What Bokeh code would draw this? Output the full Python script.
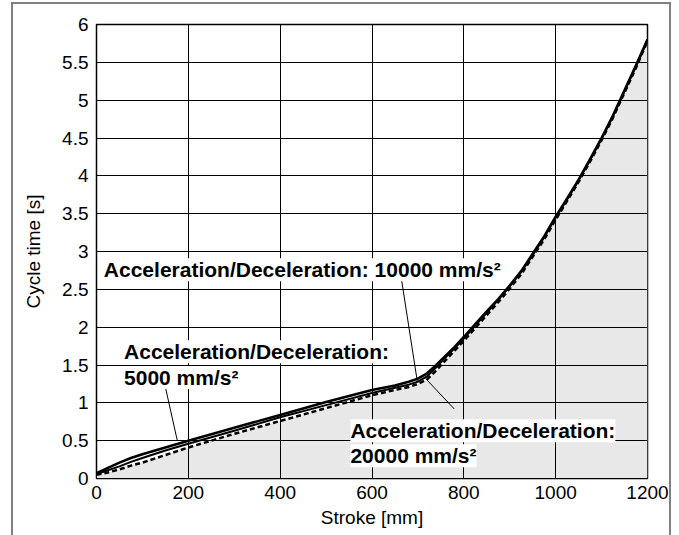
from bokeh.plotting import figure
from bokeh.models import Range1d, FixedTicker, Label
from bokeh.embed import file_html
from bokeh.resources import INLINE

# ---- data ----
stroke = [0, 25, 50, 75, 100, 150, 200, 300, 400, 500, 600, 650, 680, 700, 720, 740, 760, 780,
          800, 825, 850, 875, 900, 925, 950, 975, 1000, 1025, 1050, 1075, 1100, 1125, 1150,
          1175, 1200]
t_5000 = [0.07, 0.14, 0.21, 0.27, 0.32, 0.41, 0.50, 0.67, 0.84, 1.01, 1.17, 1.23, 1.28, 1.32,
          1.39, 1.50, 1.62, 1.74, 1.87, 2.04, 2.21, 2.37, 2.55, 2.74, 2.97, 3.20, 3.46, 3.70,
          3.95, 4.22, 4.50, 4.80, 5.13, 5.46, 5.80]
t_10000 = [0.06, 0.11, 0.16, 0.22, 0.27, 0.37, 0.46, 0.63, 0.81, 0.97, 1.13, 1.20, 1.24, 1.28,
           1.35, 1.47, 1.60, 1.72, 1.85, 2.02, 2.19, 2.36, 2.54, 2.73, 2.95, 3.19, 3.45, 3.69,
           3.94, 4.21, 4.49, 4.79, 5.12, 5.45, 5.80]
t_20000 = [0.05, 0.08, 0.12, 0.17, 0.21, 0.31, 0.41, 0.59, 0.76, 0.93, 1.10, 1.17, 1.21, 1.25,
           1.31, 1.43, 1.56, 1.69, 1.82, 1.99, 2.16, 2.33, 2.51, 2.70, 2.93, 3.16, 3.42, 3.67,
           3.92, 4.19, 4.47, 4.77, 5.10, 5.43, 5.78]

x_ticks = [0, 200, 400, 600, 800, 1000, 1200]
x_tick_labels = ["0", "200", "400", "600", "800", "1000", "1200"]
y_ticks = [0, 0.5, 1, 1.5, 2, 2.5, 3, 3.5, 4, 4.5, 5, 5.5, 6]
y_tick_labels = ["0", "0.5", "1", "1.5", "2", "2.5", "3", "3.5", "4", "4.5", "5", "5.5", "6"]

# annotation texts and anchor points
ann_texts = [["Acceleration/Deceleration: 10000 mm/s²"],
             ["Acceleration/Deceleration:", "5000 mm/s²"],
             ["Acceleration/Deceleration:", "20000 mm/s²"]]
ann_x = [16, 60, 553]
ann_y = [[2.76], [1.675, 1.335], [0.632, 0.30]]
lead_x0 = [664, 147, 779]
lead_y0 = [2.64, 1.29, 0.92]
lead_x1 = [699, 176, 717]
lead_y1 = [1.27, 0.50, 1.32]

FONT = "Liberation Sans"

p = figure(width=656, height=531, output_backend="svg", toolbar_location=None,
           x_range=Range1d(0, 1200), y_range=Range1d(0, 6),
           min_border_left=83, min_border_right=22, min_border_top=20, min_border_bottom=57,
           margin=(4, 0, 0, 13),
           styles={"outline": "2px solid #808080"})

p.background_fill_color = "white"
p.border_fill_color = "white"
p.outline_line_color = "black"
p.outline_line_width = 1.5

# fill under lowest curve
p.varea(x=stroke, y1=0, y2=t_20000, fill_color="#e8e8e8", level="image")

p.line(stroke, t_20000, line_color="black", line_width=2.5, line_dash="5 3")
p.line(stroke, t_10000, line_color="black", line_width=2.0, line_join="round")
p.line(stroke, t_5000, line_color="black", line_width=2.6, line_join="round")

# leader lines
p.segment(x0=lead_x0, y0=lead_y0, x1=lead_x1, y1=lead_y1, line_color="black", line_width=1)

for xs, ys, txts in zip(ann_x, ann_y, ann_texts):
    for yy, tt in zip(ys, txts):
        p.add_layout(Label(x=xs, y=yy, text=tt, text_font=FONT, text_font_style="bold",
                           text_font_size="21px", text_color="black", text_baseline="alphabetic",
                           background_fill_color="white"))

for ax, ticks, labels in ((p.xaxis[0], x_ticks, x_tick_labels), (p.yaxis[0], y_ticks, y_tick_labels)):
    ax.ticker = FixedTicker(ticks=ticks)
    ax.major_label_overrides = {t: l for t, l in zip(ticks, labels)}
    ax.major_label_text_font = FONT
    ax.major_label_text_font_size = "19px"
    ax.major_label_text_color = "black"
    ax.axis_label_text_font = FONT
    ax.axis_label_text_font_size = "19px"
    ax.axis_label_text_font_style = "normal"
    ax.axis_label_text_color = "black"
    ax.major_tick_in = 0
    ax.major_tick_out = 0
    ax.minor_tick_in = 0
    ax.minor_tick_out = 0
    ax.axis_line_color = "black"

p.xaxis.axis_label = "Stroke [mm]"
p.yaxis.axis_label = "Cycle time [s]"
p.xaxis.major_label_standoff = 7
p.xaxis.axis_label_standoff = 5
p.yaxis.major_label_standoff = 8
p.yaxis.axis_label_standoff = 15

for g in (p.xgrid[0], p.ygrid[0]):
    g.grid_line_color = "black"
    g.grid_line_width = 1

p.xgrid.ticker = FixedTicker(ticks=x_ticks)
p.ygrid.ticker = FixedTicker(ticks=y_ticks)

open("out.html", "w").write(file_html(p, INLINE))
